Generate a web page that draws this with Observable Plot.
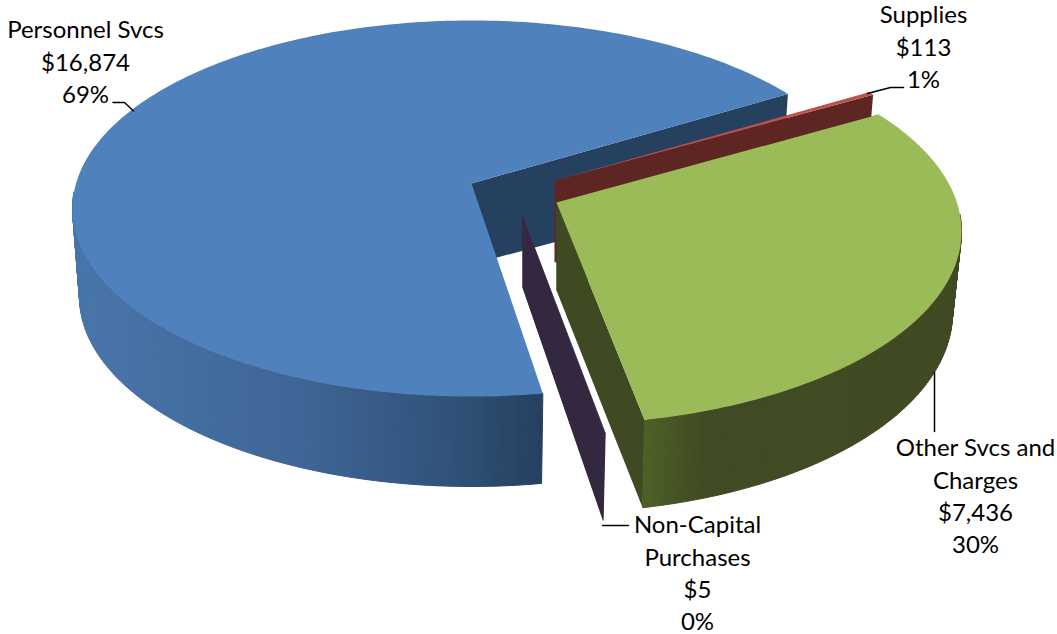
<!DOCTYPE html>
<html>
<head>
<meta charset="utf-8">
<style>html,body{margin:0;padding:0;background:#fff;overflow:hidden}svg{display:block}</style>
<script src="https://cdn.jsdelivr.net/npm/d3@7"></script>
<script src="https://cdn.jsdelivr.net/npm/@observablehq/plot@0.6"></script>
</head>
<body>
<div id="chart"></div>
<script>
// Data
const categories = ["Personnel Svcs", "Supplies", "Other Svcs and\nCharges", "Non-Capital\nPurchases"];
const amounts = [16874, 113, 7436, 5];
const amountLabels = ["$16,874", "$113", "$7,436", "$5"];
const percentLabels = ["69%", "1%", "30%", "0%"];

// Layout of each exploded slice in the tilted view (pixel space of the x/y scales)
const apexes = [[471, 183], [554, 180], [556, 202], [522, 215]];
const topCentreDy = [25, 28, 29, 29];
const topRadii = [[399, 188], [400, 188], [405, 193], [400, 193]];
const apexDepth = [81, 82, 88, 72];
const bottomCentreDy = [113, 109, 110, 110];
const bottomRadii = [[392, 190], [392, 195], [396, 200], [390, 200]];
const startAngles = [79.7, 321.8, 322.7, 78];
const sweepScale = [0.9762, 0.6, 1.047, 1];
const labelAnchors = [[85, 60], [923, 45], [975, 494], [697, 571]];
const leaders = [
  [[112.5, 102], [124, 102], [133, 110.5]],
  [[867, 93], [890, 87], [903, 87]],
  [[934, 372], [934, 431]],
  [[602, 525], [628, 525]]
];
const faceColors = ["#4f81bd", "#c0504d", "#9bbb59", "#8064a2"];
const cutColors = ["#264060", "#5e2623", "#3f4a22", "#33283f"];
const blueWall = d3.scaleLinear([80, 300, 450, 535], ["#4875a9", "#3e6595", "#305279", "#264060"]).clamp(true);
const greenWall = d3.scaleLinear([642, 705, 1000], ["#4f6128", "#404b23", "#3f4a22"]).clamp(true);

const total = d3.sum(amounts);
const rad = Math.PI / 180;
const sweep = amounts.map((v, i) => v / total * 360 * sweepScale[i]);
const topAt = (i, t) => [apexes[i][0] + topRadii[i][0] * Math.cos(t * rad),
                         apexes[i][1] + topCentreDy[i] + topRadii[i][1] * Math.sin(t * rad)];
const botAt = (i, t) => [apexes[i][0] + bottomRadii[i][0] * Math.cos(t * rad),
                         apexes[i][1] + bottomCentreDy[i] + bottomRadii[i][1] * Math.sin(t * rad)];
const apexBottom = i => [apexes[i][0], apexes[i][1] + apexDepth[i]];

const pts = [];
let pid = 0;
function poly(points, color, edge) {
  const id = pid++;
  for (const [x, y] of points) pts.push({x, y, id, color, edge});
}
function tRange(a, b, step) {
  const out = [];
  const n = Math.max(1, Math.ceil(Math.abs(b - a) / step));
  for (let k = 0; k <= n; k++) out.push(a + (b - a) * k / n);
  return out;
}
function wallStrips(i, from, to, scale) {
  const ts = tRange(from, to, 0.75);
  for (let k = 0; k < ts.length - 1; k++) {
    const a = topAt(i, ts[k]), b = topAt(i, ts[k + 1]);
    const c = d3.color(scale(a[0])).formatHex();
    poly([a, b, botAt(i, ts[k + 1]), botAt(i, ts[k]), a], c, c);
  }
}
function drawSlice(i) {
  const t0 = startAngles[i], t1 = t0 + sweep[i];
  poly([apexes[i], topAt(i, t1), botAt(i, t1), apexBottom(i), apexes[i]], cutColors[i], "none");
  if (i === 2 || i === 3) poly([apexes[i], topAt(i, t0), botAt(i, t0), apexBottom(i), apexes[i]], cutColors[i], "none");
  if (i === 0) wallStrips(i, 185, t0, blueWall);
  if (i === 2) wallStrips(i, -5, t1 - 360, greenWall);
  poly([apexes[i], ...tRange(t0, t1, 1).map(t => topAt(i, t)), apexes[i]], faceColors[i], "none");
}
[0, 1, 3, 2].forEach(drawSlice);

const labels = categories.map((c, i) => ({
  text: `${c}\n${amountLabels[i]}\n${percentLabels[i]}`,
  x: labelAnchors[i][0], y: labelAnchors[i][1]
}));
const leaderRows = leaders.flatMap((l, i) => l.map(([x, y]) => ({x, y, i})));

const chart = Plot.plot({
  width: 1057, height: 634,
  margin: 0,
  style: {background: "#fff"},
  x: {domain: [0, 1057], range: [0, 1057], axis: null},
  y: {domain: [0, 634], range: [0, 634], axis: null},
  color: {type: "identity"},
  marks: [
    Plot.line(pts, {x: "x", y: "y", z: "id", fill: "color", stroke: "edge", strokeWidth: 1, curve: "linear"}),
    Plot.line(leaderRows, {x: "x", y: "y", z: "i", stroke: "#000", strokeWidth: 1.5, curve: "linear"}),
    Plot.text(labels, {x: "x", y: "y", text: "text", fontSize: 24, lineHeight: 1.35, fontFamily: "Lato", fill: "#000", textAnchor: "middle"})
  ]
});
document.getElementById("chart").append(chart);
</script>
</body>
</html>
